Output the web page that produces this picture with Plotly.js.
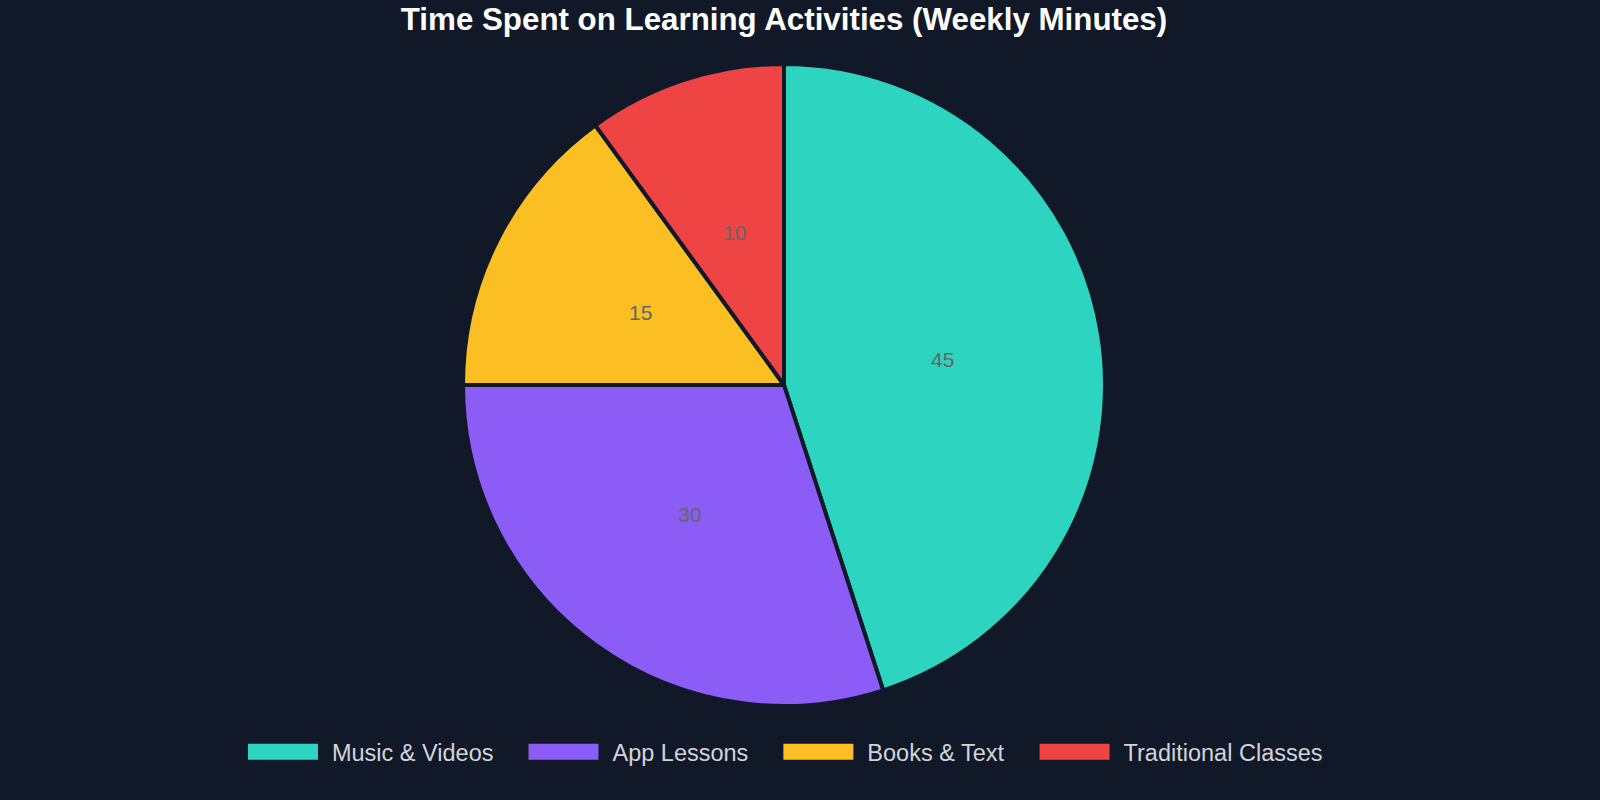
<!DOCTYPE html>
<html>
<head>
<meta charset="utf-8">
<script src="https://cdn.plot.ly/plotly-3.0.1.min.js"></script>
<style>
  html, body { margin: 0; padding: 0; background: #111827; overflow: hidden; }
  #chart { width: 1600px; height: 800px; }
</style>
</head>
<body>
<div id="chart"></div>
<script>
// weekly minutes per activity
var activities = ['Music & Videos', 'App Lessons', 'Books & Text', 'Traditional Classes'];
var minutes = [45, 30, 15, 10];
var sliceColors = ['#2DD4BF', '#8B5CF6', '#FBBF24', '#EF4444'];

var W = 1600, H = 800;
var pieDomain = {x: [0.289375, 0.690625], y: [0.1175, 0.92]};

var trace = {
  type: 'pie',
  labels: activities,
  values: minutes,
  sort: false,
  direction: 'clockwise',
  rotation: 0,
  domain: pieDomain,
  textinfo: 'none',
  hoverinfo: 'none',
  marker: {
    colors: sliceColors,
    line: {color: '#111827', width: 4}
  }
};

// value labels sit half way out along each slice's middle angle
var total = minutes.reduce(function (a, b) { return a + b; }, 0);
var cx = (pieDomain.x[0] + pieDomain.x[1]) / 2;
var cy = (pieDomain.y[0] + pieDomain.y[1]) / 2;
var rPx = Math.min(W * (pieDomain.x[1] - pieDomain.x[0]), H * (pieDomain.y[1] - pieDomain.y[0])) / 2;
var cum = 0;
var valueLabels = minutes.map(function (v) {
  var mid = (cum + v / 2) / total * 2 * Math.PI;
  cum += v;
  return {
    xref: 'paper', yref: 'paper',
    x: cx + Math.sin(mid) * rPx / 2 / W,
    y: cy + Math.cos(mid) * rPx / 2 / H,
    text: String(v),
    showarrow: false,
    xanchor: 'center', yanchor: 'middle',
    font: {family: 'Liberation Sans, Arial, sans-serif', size: 21, color: '#666666'}
  };
});

var layout = {
  width: W,
  height: H,
  paper_bgcolor: '#111827',
  plot_bgcolor: '#111827',
  margin: {t: 0, b: 0, l: 0, r: 0},
  title: {
    text: '<b>Time Spent on Learning Activities (Weekly Minutes)</b>',
    font: {family: 'Liberation Sans, Arial, sans-serif', size: 31.3, color: '#ffffff'},
    x: 0.49, xanchor: 'center',
    y: 0.976, yanchor: 'middle'
  },
  annotations: valueLabels,
  showlegend: true,
  legend: {
    orientation: 'h',
    x: 0.4831, xanchor: 'center',
    y: 0.06, yanchor: 'middle',
    font: {family: 'Liberation Sans, Arial, sans-serif', size: 23.5, color: '#d1d5db'},
    itemwidth: 104,
    traceorder: 'normal'
  }
};

var config = {displayModeBar: false, staticPlot: true};

Plotly.newPlot('chart', [trace], layout, config).then(function () {
  // wide bar swatches, like the original legend
  document.querySelectorAll('.legendpoints path').forEach(function (p) {
    p.setAttribute('d', 'M-29,-10H45V10H-29Z');
  });
});
</script>
</body>
</html>
